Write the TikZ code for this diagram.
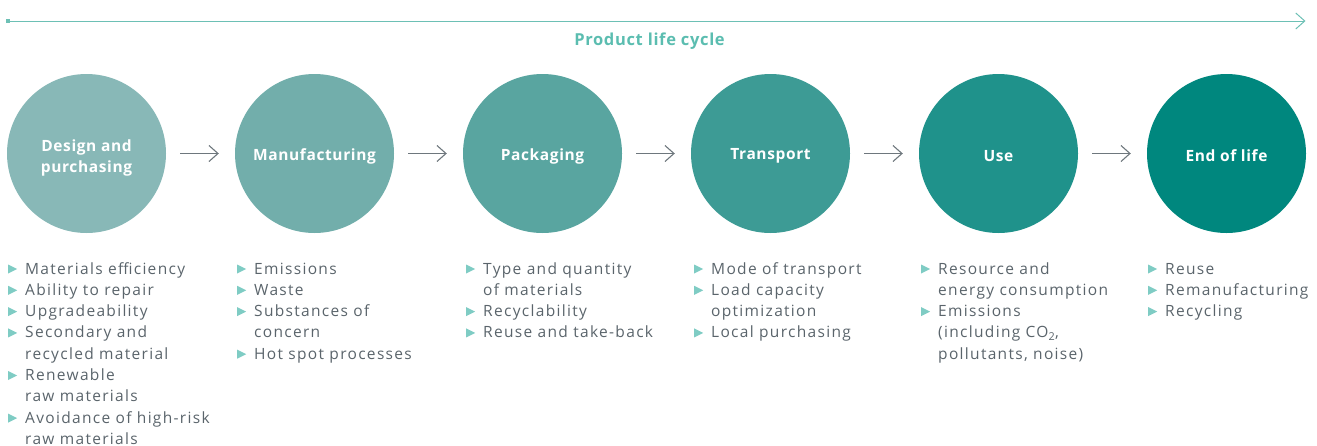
\documentclass[tikz,border=0pt]{standalone}
\usepackage{fontspec}
\setmainfont{Open Sans}
\newfontfamily\bodyf[LetterSpace=8.5]{Open Sans}
\newfontfamily\headf[LetterSpace=4]{Open Sans}
\usetikzlibrary{arrows.meta}
\definecolor{cA}{HTML}{88B8B7}
\definecolor{cB}{HTML}{72AEAB}
\definecolor{cC}{HTML}{59A5A0}
\definecolor{cD}{HTML}{3D9B95}
\definecolor{cE}{HTML}{1F928B}
\definecolor{cF}{HTML}{00877E}
\definecolor{topline}{HTML}{6DC0B5}
\definecolor{toptext}{HTML}{5BBDB0}
\definecolor{bulcol}{HTML}{7FCCC4}
\definecolor{txtgray}{HTML}{5A646B}
\definecolor{arrgray}{HTML}{6E777D}
\newcommand{\bul}{\tikz[baseline=0pt,x=1pt,y=1pt]\fill[bulcol] (0,0.5)--(0,9.5)--(9,5)--cycle;}
\begin{document}
\begin{tikzpicture}[x=1pt,y=-1pt,
  stage/.style={circle,minimum size=159pt,inner sep=0pt},
  stagetext/.style={text=white,align=center,inner sep=0pt,
    font=\headf\fontsize{15.5}{21}\selectfont\bfseries},
  flow/.style={draw=arrgray,line width=1.1pt,-{Straight Barb[length=9pt,width=16pt,line width=1.1pt]},
    shorten <=14pt,shorten >=16pt},
  items/.style={anchor=base west,inner sep=0pt,text=txtgray,
    font=\bodyf\fontsize{15.5}{21.3}\selectfont}]
\useasboundingbox (0,0) rectangle (1317,445);
% top timeline
\coordinate (ts) at (8,21);
\coordinate (te) at (1305.5,21);
\draw[topline,line width=1pt,-{Straight Barb[length=9pt,width=16pt,line width=1pt]}] (ts) -- (te);
\fill[topline] (ts) ++(-1.8,-1.8) rectangle ++(3.6,3.6);
\node[text=toptext,font=\headf\fontsize{16.5}{18}\selectfont\bfseries] (title) at (649.5,41) {Product life cycle};
% circles
\node[stage,fill=cA] (s1) at (86.5,153.5) {};
\node[stage,fill=cB] (s2) at (314.5,153.5) {};
\node[stage,fill=cC] (s3) at (542.5,153.5) {};
\node[stage,fill=cD] (s4) at (770.5,153.5) {};
\node[stage,fill=cE] (s5) at (998.5,153.5) {};
\node[stage,fill=cF] (s6) at (1226.5,153.5) {};
\node[stagetext,yshift=-4pt] (t1) at (s1.center) {Design and\\purchasing};
\node[stagetext,yshift=-2.5pt] (t2) at (s2.center) {Manufacturing};
\node[stagetext,yshift=-2.5pt] (t3) at (s3.center) {Packaging};
\node[stagetext,yshift=-2.5pt] (t4) at (s4.center) {Transport};
\node[stagetext,yshift=-2.5pt] (t5) at (s5.center) {Use};
\node[stagetext,yshift=-2.5pt] (t6) at (s6.center) {End of life};
% arrows
\draw[flow] (s1) -- (s2);
\draw[flow] (s2) -- (s3);
\draw[flow] (s3) -- (s4);
\draw[flow] (s4) -- (s5);
\draw[flow] (s5) -- (s6);
% lists
\node[items] (l1) at (8,274) {\begin{tabular}[t]{@{}l@{\hspace{8pt}}l@{}}
\bul & Materials efficiency\\
\bul & Ability to repair\\
\bul & Upgradeability\\
\bul & Secondary and\\
 & recycled material\\
\bul & Renewable\\
 & raw materials\\
\bul & Avoidance of high-risk\\
 & raw materials
\end{tabular}};
\node[items] (l2) at (237,274) {\begin{tabular}[t]{@{}l@{\hspace{8pt}}l@{}}
\bul & Emissions\\
\bul & Waste\\
\bul & Substances of\\
 & concern\\
\bul & Hot spot processes
\end{tabular}};
\node[items] (l3) at (466,274) {\begin{tabular}[t]{@{}l@{\hspace{8pt}}l@{}}
\bul & Type and quantity\\
 & of materials\\
\bul & Recyclability\\
\bul & Reuse and take-back
\end{tabular}};
\node[items] (l4) at (694,274) {\begin{tabular}[t]{@{}l@{\hspace{8pt}}l@{}}
\bul & Mode of transport\\
\bul & Load capacity\\
 & optimization\\
\bul & Local purchasing
\end{tabular}};
\node[items] (l5) at (921,274) {\begin{tabular}[t]{@{}l@{\hspace{8pt}}l@{}}
\bul & Resource and\\
 & energy consumption\\
\bul & Emissions\\
 & (including CO\textsubscript{2},\\
 & pollutants, noise)
\end{tabular}};
\node[items] (l6) at (1148,274) {\begin{tabular}[t]{@{}l@{\hspace{8pt}}l@{}}
\bul & Reuse\\
\bul & Remanufacturing\\
\bul & Recycling
\end{tabular}};
\end{tikzpicture}
\end{document}
